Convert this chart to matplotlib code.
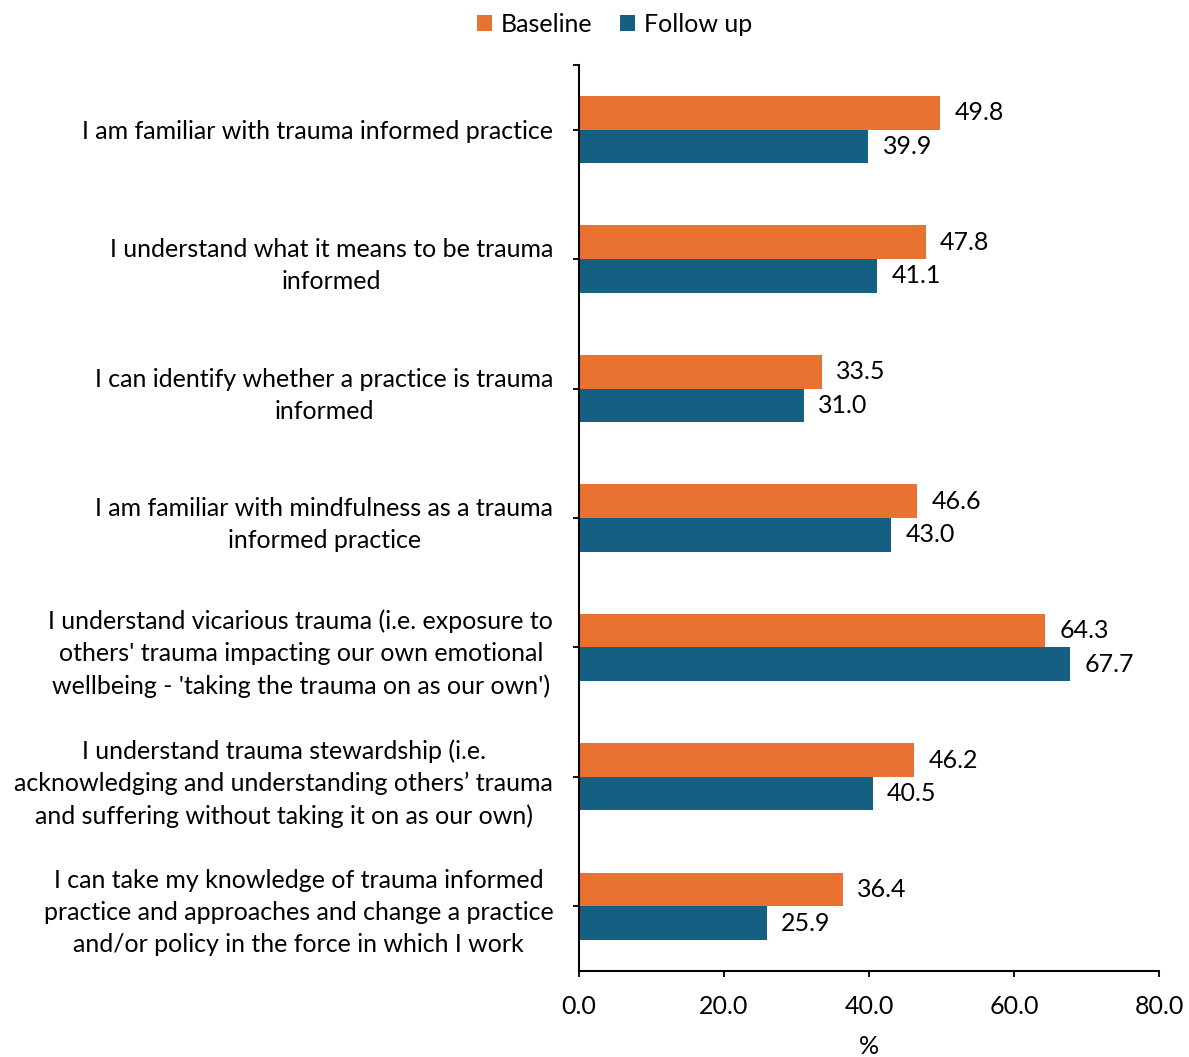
import numpy as np
import matplotlib.pyplot as plt

plt.rcParams['font.family'] = ['Lato', 'DejaVu Sans']

statements = [
    'I am familiar with trauma informed practice',
    'I understand what it means to be trauma\ninformed',
    'I can identify whether a practice is trauma\ninformed',
    'I am familiar with mindfulness as a trauma\ninformed practice',
    "I understand vicarious trauma (i.e. exposure to\nothers' trauma impacting our own emotional\nwellbeing - 'taking the trauma on as our own')",
    'I understand trauma stewardship (i.e.\nacknowledging and understanding others\u2019 trauma\nand suffering without taking it on as our own)',
    'I can take my knowledge of trauma informed\npractice and approaches and change a practice\nand/or policy in the force in which I work',
]
baseline = [49.8, 47.8, 33.5, 46.6, 64.3, 46.2, 36.4]
follow_up = [39.9, 41.1, 31.0, 43.0, 67.7, 40.5, 25.9]

orange = '#E97132'
blue = '#156082'
fs = 18

fig = plt.figure(figsize=(11.89, 10.57), dpi=100)
ax = fig.add_axes([0.487, 0.0814, 0.4878, 0.8571])

y = np.arange(len(statements))
h = 0.26
b1 = ax.barh(y - h / 2, baseline, height=h, color=orange, label='Baseline')
b2 = ax.barh(y + h / 2, follow_up, height=h, color=blue, label='Follow up')

# подписи значений справа от столбцов
for bars, vals in ((b1, baseline), (b2, follow_up)):
    for rect, v in zip(bars, vals):
        ax.text(v + 2.0, rect.get_y() + rect.get_height() / 2, f'{v:.1f}',
                va='center', ha='left', fontsize=fs)

ax.set_ylim(len(statements) - 0.5, -0.5)
ax.set_xlim(0, 80)
ax.set_xticks([0, 20, 40, 60, 80])
ax.set_xticklabels([f'{t:.1f}' for t in [0, 20, 40, 60, 80]], fontsize=fs)
ax.set_yticks(list(y) + [-0.5])
ax.set_yticklabels(statements + [''], fontsize=fs, multialignment='center',
                   linespacing=1.48)
ax.tick_params(axis='y', length=4.5, width=1.3, pad=14)
ax.tick_params(axis='x', length=4.5, width=1.3, pad=13, direction='out')
ax.set_xlabel('%', fontsize=fs, labelpad=12)

for s in ('top', 'right'):
    ax.spines[s].set_visible(False)
for s in ('left', 'bottom'):
    ax.spines[s].set_linewidth(1.5)

fig.legend(handles=[b1, b2], loc='center', bbox_to_anchor=(0.517, 0.977),
           ncol=2, frameon=False, fontsize=fs, handlelength=0.6,
           handleheight=0.6, handletextpad=0.35, columnspacing=1.1)

fig.savefig('out.png', dpi=100)
